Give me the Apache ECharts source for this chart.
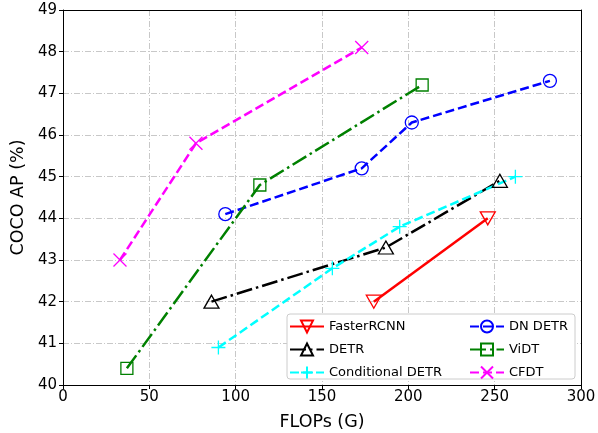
<!DOCTYPE html>
<html>
<head>
<meta charset="utf-8">
<script src="https://cdn.jsdelivr.net/npm/echarts@6/dist/echarts.min.js"></script>
<style>html,body{margin:0;padding:0;background:#fff}#c{width:598px;height:433px}</style>
</head>
<body>
<div id="c"></div>
<script>
const xTicks = [0, 50, 100, 150, 200, 250, 300];
const yTicks = [40, 41, 42, 43, 44, 45, 46, 47, 48, 49];

const fasterX = [180, 246];
const fasterY = [42.0, 44.0];
const detrX = [86, 187, 253];
const detrY = [42.0, 43.3, 44.9];
const condX = [90, 156, 195, 262];
const condY = [40.9, 42.8, 43.8, 45.0];
const dnX = [94, 173, 202, 282];
const dnY = [44.1, 45.2, 46.3, 47.3];
const vidtX = [37, 114, 208];
const vidtY = [40.4, 44.8, 47.2];
const cfdtX = [33, 77, 173];
const cfdtY = [43.0, 45.8, 48.1];

const names = ['FasterRCNN', 'DETR', 'Conditional DETR', 'DN DETR', 'ViDT', 'CFDT'];

const FONT = 'DejaVu Sans';
const dashed = [9, 4];
const dashDot = [16, 4, 2.5, 4];

function pairs(xs, ys) { return xs.map((x, i) => [x, ys[i]]); }

function mk(name, xs, ys, color, symbol, size, lineType) {
  return {
    name: name,
    type: 'line',
    data: pairs(xs, ys),
    color: color,
    symbol: symbol,
    symbolSize: size,
    showAllSymbol: true,
    lineStyle: { color: color, width: 2.5, type: lineType },
    itemStyle: { color: 'none', borderColor: color, borderWidth: 1.3 },
    emphasis: { disabled: true },
    z: 3
  };
}

const series = [
  mk(names[0], fasterX, fasterY, '#ff0000', 'path://M0,0 L10,0 L5,8.66 Z', [15, 13], 'solid'),
  mk(names[1], detrX, detrY, '#000000', 'path://M5,0 L10,8.66 L0,8.66 Z', [15, 13], dashDot),
  mk(names[2], condX, condY, '#00ffff', 'path://M5,0 L5,10 M0,5 L10,5', 14, dashed),
  mk(names[3], dnX, dnY, '#0000ff', 'circle', 13, dashed),
  mk(names[4], vidtX, vidtY, '#008000', 'rect', 12, dashDot),
  mk(names[5], cfdtX, cfdtY, '#ff00ff', 'path://M0,0 L10,10 M10,0 L0,10', 13, dashed)
];

const chart = echarts.init(document.getElementById('c'), null, { renderer: 'canvas' });
const legendCommon = {
  orient: 'vertical',
  itemWidth: 34,
  itemHeight: 15,
  itemGap: 6,
  textStyle: { fontFamily: FONT, fontSize: 13, color: '#000' },
  padding: 0,
  z: 10
};
const spine = {
  show: true,
  axisLine: { show: true, onZero: false, lineStyle: { color: '#000', width: 1 } },
  axisTick: { show: false },
  axisLabel: { show: false },
  splitLine: { show: false }
};
chart.setOption({
  animation: false,
  backgroundColor: '#fff',
  textStyle: { fontFamily: FONT },
  grid: { left: 63, right: 17, top: 10, bottom: 48, containLabel: false, outerBoundsMode: 'none' },
  graphic: [{
    type: 'rect',
    shape: { x: 287, y: 314, width: 288, height: 65, r: 3 },
    style: { fill: '#fff', stroke: '#cccccc', lineWidth: 1 },
    z: 5
  }],
  legend: [
    Object.assign({ data: names.slice(0, 3), left: 289, top: 318 }, legendCommon),
    Object.assign({ data: names.slice(3), left: 469, top: 318 }, legendCommon)
  ],
  xAxis: [{
    type: 'value', min: xTicks[0], max: xTicks[xTicks.length - 1], interval: 50,
    name: 'FLOPs (G)', nameLocation: 'middle', nameGap: 28,
    nameTextStyle: { fontFamily: FONT, fontSize: 17.5, color: '#000' },
    axisLine: { show: true, onZero: false, lineStyle: { color: '#000', width: 1 } },
    axisTick: { show: true, inside: false, length: 4, lineStyle: { color: '#000' } },
    axisLabel: { fontFamily: FONT, fontSize: 15, color: '#000', margin: 5 },
    splitLine: { show: true, lineStyle: { color: '#c8c8c8', width: 1, type: [6, 2, 1, 2] } }
  }, Object.assign({
    type: 'value', position: 'top', min: xTicks[0], max: xTicks[xTicks.length - 1], interval: 50
  }, spine)],
  yAxis: [{
    type: 'value', min: yTicks[0], max: yTicks[yTicks.length - 1], interval: 1,
    name: 'COCO AP (%)', nameLocation: 'middle', nameGap: 30,
    nameTextStyle: { fontFamily: FONT, fontSize: 17.5, color: '#000' },
    axisLine: { show: true, onZero: false, lineStyle: { color: '#000', width: 1 } },
    axisTick: { show: true, inside: false, length: 4, lineStyle: { color: '#000' } },
    axisLabel: { fontFamily: FONT, fontSize: 15, color: '#000', margin: 6 },
    splitLine: { show: true, lineStyle: { color: '#c8c8c8', width: 1, type: [6, 2, 1, 2] } }
  }, Object.assign({
    type: 'value', position: 'right', min: yTicks[0], max: yTicks[yTicks.length - 1], interval: 1
  }, spine)],
  series: series
});
</script>
</body>
</html>
